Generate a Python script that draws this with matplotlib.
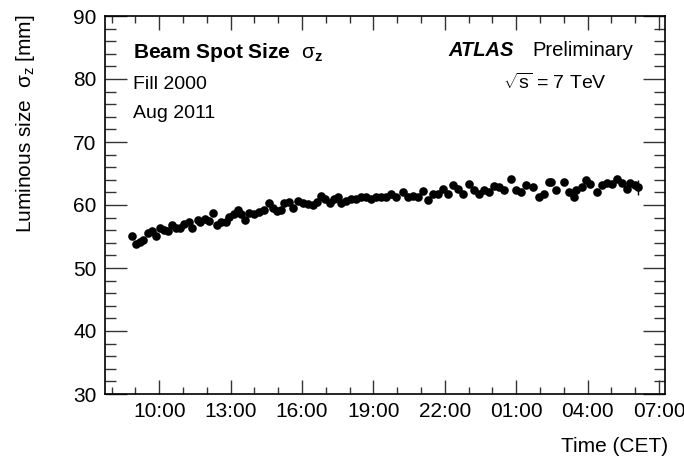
import matplotlib
matplotlib.use("Agg")
import matplotlib.pyplot as plt
from matplotlib.ticker import FixedLocator, MultipleLocator, FuncFormatter

plt.rcParams['font.family'] = ['Liberation Sans', 'DejaVu Sans']
plt.rcParams['mathtext.fontset'] = 'custom'
plt.rcParams['mathtext.rm'] = 'Liberation Sans'
plt.rcParams['mathtext.it'] = 'Liberation Sans:italic'
plt.rcParams['mathtext.bf'] = 'Liberation Sans:bold'

# Hours since midnight of the first day (values > 24 belong to the next day)
time_h = [8.87, 9.04, 9.21, 9.33, 9.54, 9.71, 9.88, 10.04, 10.21, 10.38, 10.55,
          10.72, 10.89, 11.06, 11.23, 11.39, 11.61, 11.73, 11.94, 12.11, 12.24,
          12.41, 12.58, 12.79, 12.91, 13.12, 13.29, 13.42, 13.59, 13.76, 13.97,
          14.18, 14.39, 14.60, 14.77, 14.94, 15.11, 15.24, 15.45, 15.62, 15.83,
          16.04, 16.25, 16.46, 16.63, 16.80, 16.97, 17.18, 17.35, 17.52, 17.64,
          17.85, 18.06, 18.27, 18.48, 18.69, 18.90, 19.11, 19.32, 19.53, 19.74,
          19.95, 20.25, 20.46, 20.67, 20.88, 21.09, 21.30, 21.51, 21.72, 21.93,
          22.14, 22.35, 22.56, 22.77, 23.03, 23.24, 23.45, 23.66, 23.87, 24.08,
          24.29, 24.50, 24.80, 25.01, 25.22, 25.43, 25.72, 25.94, 26.15, 26.36,
          26.48, 26.69, 26.99, 27.20, 27.41, 27.49, 27.75, 27.92, 28.08, 28.38,
          28.59, 28.80, 29.01, 29.22, 29.43, 29.64, 29.79, 30.01, 30.11]
sigma_z = [55.1, 53.8, 54.2, 54.4, 55.5, 55.8, 55.1, 56.4, 56.1, 55.9, 56.8,
           56.3, 56.4, 57.0, 57.3, 56.4, 57.6, 57.3, 57.8, 57.5, 58.7, 56.8,
           57.3, 57.3, 58.1, 58.6, 59.2, 58.6, 57.6, 58.7, 58.6, 58.9, 59.2,
           60.3, 59.6, 59.0, 59.2, 60.3, 60.4, 59.5, 60.7, 60.3, 60.2, 60.0,
           60.5, 61.4, 60.9, 60.3, 60.9, 61.3, 60.3, 60.7, 61.0, 60.9, 61.3,
           61.2, 61.0, 61.3, 61.2, 61.2, 61.7, 61.3, 62.1, 61.3, 61.4, 61.3,
           62.3, 60.8, 61.8, 61.8, 62.6, 61.8, 63.2, 62.6, 61.7, 63.3, 62.4,
           61.7, 62.4, 62.1, 63.0, 62.9, 62.4, 64.1, 62.4, 62.0, 63.2, 62.9,
           61.3, 61.8, 63.7, 63.7, 62.4, 63.7, 62.1, 61.2, 62.4, 62.8, 63.9,
           63.3, 62.0, 63.2, 63.5, 63.3, 64.1, 63.5, 62.6, 63.5, 63.2, 62.8]
sigma_err = [0.0] * (len(sigma_z) - 1) + [1.2]

major_hours = [10, 13, 16, 19, 22, 25, 28, 31]
x_range = (7.72, 31.25)
y_range = (30, 90)

W, H = 684, 459
fig = plt.figure(figsize=(W / 100, H / 100), dpi=100)
ax = fig.add_axes([105 / W, 1 - 394 / H, (665 - 105) / W, (394 - 16) / H])

ax.errorbar(time_h, sigma_z, yerr=sigma_err, fmt='o', color='black',
            ms=6.2, mew=0, elinewidth=1, capsize=0)

ax.set_xlim(*x_range)
ax.set_ylim(*y_range)
ax.xaxis.set_major_locator(FixedLocator(major_hours))
ax.xaxis.set_minor_locator(MultipleLocator(1))
ax.xaxis.set_major_formatter(FuncFormatter(lambda v, p: "%02d:00" % (int(round(v)) % 24)))
ax.yaxis.set_major_locator(MultipleLocator(10))
ax.yaxis.set_minor_locator(MultipleLocator(2))

ax.tick_params(axis='both', which='both', direction='in', top=True, right=True,
               labelsize=15, color='#333333', width=1)
ax.tick_params(axis='x', which='major', length=10, pad=6)
ax.tick_params(axis='x', which='minor', length=5)
ax.tick_params(axis='y', which='major', length=16, pad=6)
ax.tick_params(axis='y', which='minor', length=8)
for s in ax.spines.values():
    s.set_linewidth(1.2)

def ftext(x, y, s, **kw):
    fig.text(x / W, 1 - y / H, s, **kw)

ftext(26, 124, r"Luminous size  $\mathrm{\sigma}_\mathrm{z}$ [mm]", fontsize=15,
      rotation=90, ha='center', va='center')
ftext(668, 446, "Time (CET)", fontsize=15, ha='right', va='center')

ftext(133, 52, r"Beam Spot Size  $\mathrm{\sigma}_\mathbf{z}$", fontsize=15,
      fontweight='bold', ha='left', va='center')
ftext(133, 85, "Fill 2000", fontsize=14, ha='left', va='center')
ftext(133, 114, "Aug 2011", fontsize=14, ha='left', va='center')

ftext(514, 50, "ATLAS", fontsize=14.5, fontweight='bold', fontstyle='italic',
      ha='right', va='center')
ftext(633, 50, "Preliminary", fontsize=14.5, ha='right', va='center')
ftext(503, 83, r"$\sqrt{\mathrm{s}}$ = 7 TeV", fontsize=14, ha='left', va='center')

fig.savefig("out.png", dpi=100)
